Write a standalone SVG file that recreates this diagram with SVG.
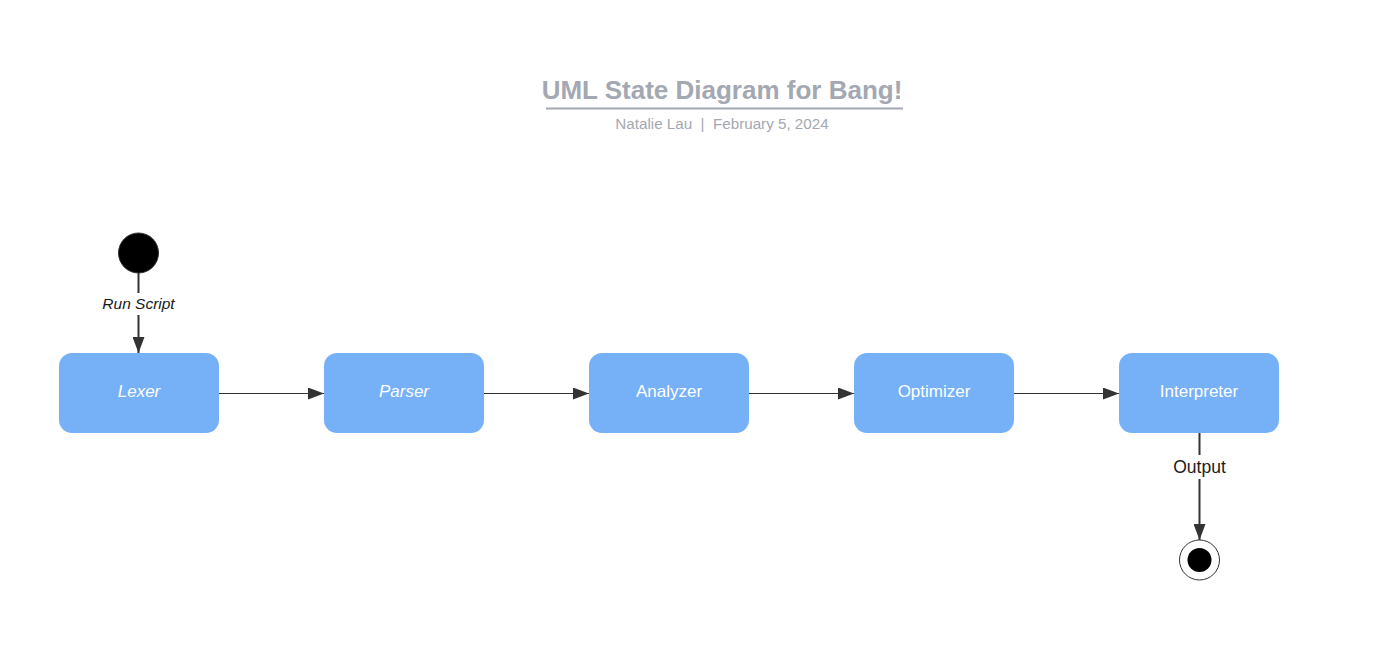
<svg xmlns="http://www.w3.org/2000/svg" width="1375" height="663" viewBox="0 0 1375 663">
<style>
.node rect{fill:#76b1f8;}
.nl{font-family:"Liberation Sans",Arial,sans-serif;font-size:17px;fill:#ffffff;text-anchor:middle;}
.it{font-style:italic;}
.edge{stroke:#333333;fill:none;}
.lbl{font-family:"Liberation Sans",Arial,sans-serif;fill:#1a1a1a;text-anchor:middle;}
</style>
<defs>
<marker id="ah" viewBox="0 0 16 12" refX="16" refY="6" markerWidth="16" markerHeight="12" markerUnits="userSpaceOnUse" orient="auto">
<path d="M0,0 L16,6 L0,12 Z" fill="#333333"/>
</marker>
</defs>
<rect width="1375" height="663" fill="#ffffff"/>
<g id="title">
<text x="722" y="99" font-family="Liberation Sans,Arial,sans-serif" font-size="26" font-weight="bold" fill="#a3a8b2" text-anchor="middle">UML State Diagram for Bang!</text>
<line x1="546" y1="108.5" x2="903" y2="108.5" stroke="#a3a8b2" stroke-width="2"/>
<text x="722" y="129" font-family="Liberation Sans,Arial,sans-serif" font-size="15.2" fill="#a3a8b2" text-anchor="middle" xml:space="preserve" style="white-space:pre">Natalie Lau  |  February 5, 2024</text>
</g>
<g id="connectors">
<line class="edge" x1="138.5" y1="273" x2="138.5" y2="353" stroke-width="2" marker-end="url(#ah)"/>
<rect x="98" y="293" width="81" height="22" fill="#ffffff"/>
<text class="lbl it" x="138.5" y="309" font-size="15.5">Run Script</text>
<line class="edge" x1="219" y1="393.5" x2="324" y2="393.5" stroke-width="1.2" marker-end="url(#ah)"/>
<line class="edge" x1="484" y1="393.5" x2="589" y2="393.5" stroke-width="1.2" marker-end="url(#ah)"/>
<line class="edge" x1="749" y1="393.5" x2="854" y2="393.5" stroke-width="1.2" marker-end="url(#ah)"/>
<line class="edge" x1="1014" y1="393.5" x2="1119" y2="393.5" stroke-width="1.2" marker-end="url(#ah)"/>
<line class="edge" x1="1199.5" y1="433" x2="1199.5" y2="540" stroke-width="2" marker-end="url(#ah)"/>
<rect x="1166" y="455" width="66" height="24" fill="#ffffff"/>
<text class="lbl" x="1199.5" y="473" font-size="17.5">Output</text>
</g>
<g id="start"><circle cx="138.5" cy="253" r="20" fill="#000000" stroke="#333333" stroke-width="1"/></g>
<g id="lexer" class="node"><rect x="59" y="353" width="160" height="80" rx="13"/><text class="nl it" x="139" y="397">Lexer</text></g>
<g id="parser" class="node"><rect x="324" y="353" width="160" height="80" rx="13"/><text class="nl it" x="404" y="397">Parser</text></g>
<g id="analyzer" class="node"><rect x="589" y="353" width="160" height="80" rx="13"/><text class="nl" x="669" y="397">Analyzer</text></g>
<g id="optimizer" class="node"><rect x="854" y="353" width="160" height="80" rx="13"/><text class="nl" x="934" y="397">Optimizer</text></g>
<g id="interpreter" class="node"><rect x="1119" y="353" width="160" height="80" rx="13"/><text class="nl" x="1199" y="397">Interpreter</text></g>
<g id="end"><circle cx="1199.5" cy="560" r="20" fill="#ffffff" stroke="#333333" stroke-width="1"/><circle cx="1199.5" cy="560" r="12" fill="#000000"/></g>
</svg>
